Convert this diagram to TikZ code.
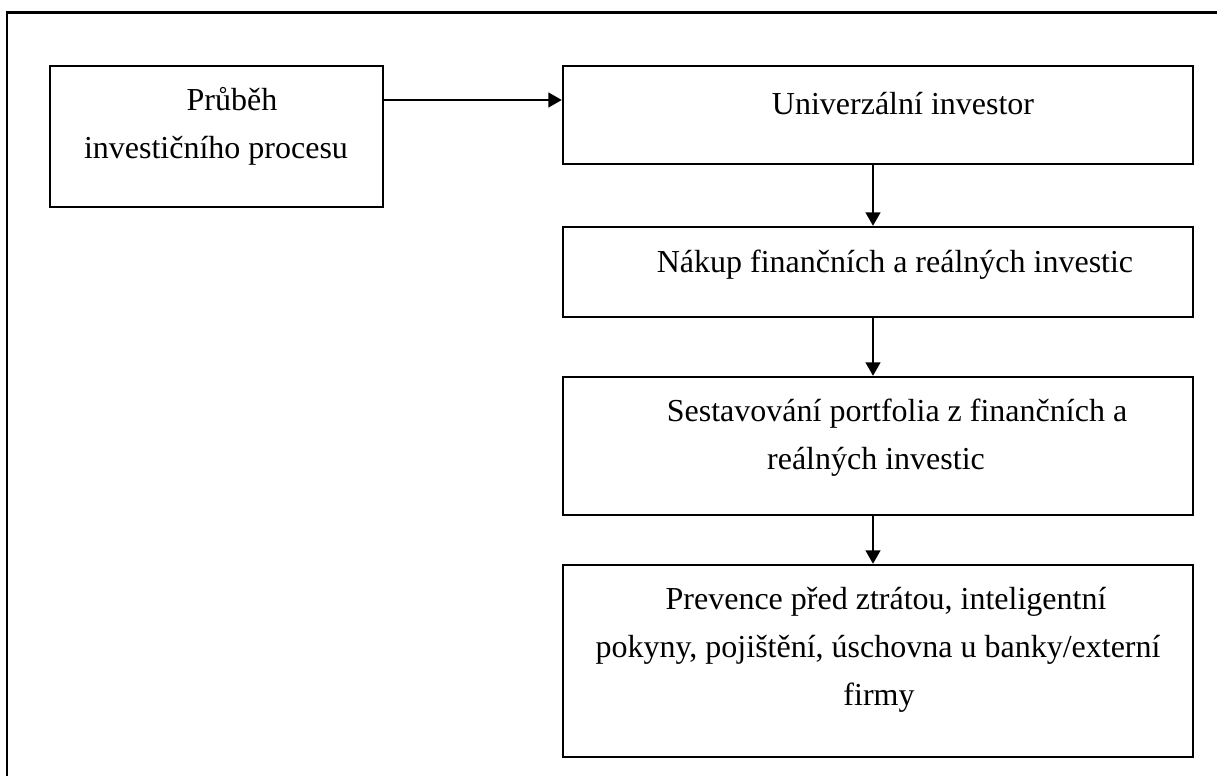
\documentclass[tikz,border=0pt]{standalone}
\usepackage{fontspec}
\setmainfont{Liberation Serif}
\usetikzlibrary{arrows.meta}
\def\u{0.375pt}
\tikzset{
  box/.style={draw, line width=0.9pt, rectangle, inner sep=0pt},
  txt/.style={anchor=base, inner sep=0pt, font=\fontsize{12}{18}\selectfont},
  arr/.style={line width=0.75pt, -{Triangle[length=5pt,width=5.5pt]}},
}
\begin{document}
\begin{tikzpicture}[x=0.375pt, y=-0.375pt]
\useasboundingbox (0,0) rectangle (1217,776);
% outer frame, running off the right and bottom edges
\begin{scope}
  \clip (0,0) rectangle (1217,776);
  \draw[line width=0.9pt] (7,12.5) rectangle (1240,800);
\end{scope}

% boxes
\node[box, minimum width=333*\u, minimum height=141*\u] (a) at (216.5,136.5) {};
\node[box, minimum width=630*\u, minimum height=98*\u]  (b) at (878,115) {};
\node[box, minimum width=630*\u, minimum height=90*\u]  (c) at (878,272) {};
\node[box, minimum width=630*\u, minimum height=138*\u] (d) at (878,446) {};
\node[box, minimum width=630*\u, minimum height=192*\u] (e) at (878,661) {};

% texts
\node[txt] (a1) at (232,111) {Průběh};
\node[txt] (a2) at (216,159) {investičního procesu};
\node[txt] (b1) at (903,115) {Univerzální investor};
\node[txt] (c1) at (895,273) {Nákup finančních a reálných investic};
\node[txt] (d1) at (897,422) {Sestavování portfolia z finančních a};
\node[txt] (d2) at (876,470) {reálných investic};
\node[txt] (e1) at (886,609) {Prevence před ztrátou, inteligentní};
\node[txt] (e2) at (878,657) {pokyny, pojištění, úschovna u banky/externí};
\node[txt] (e3) at (879,705) {firmy};

% connectors
\coordinate (row) at (0,100);
\coordinate (col) at (873,0);
\draw[arr] (a.east |- row) -- (b.west |- row);
\draw[arr] (b.south -| col) -- (c.north -| col);
\draw[arr] (c.south -| col) -- (d.north -| col);
\draw[arr] (d.south -| col) -- (e.north -| col);
\end{tikzpicture}
\end{document}
